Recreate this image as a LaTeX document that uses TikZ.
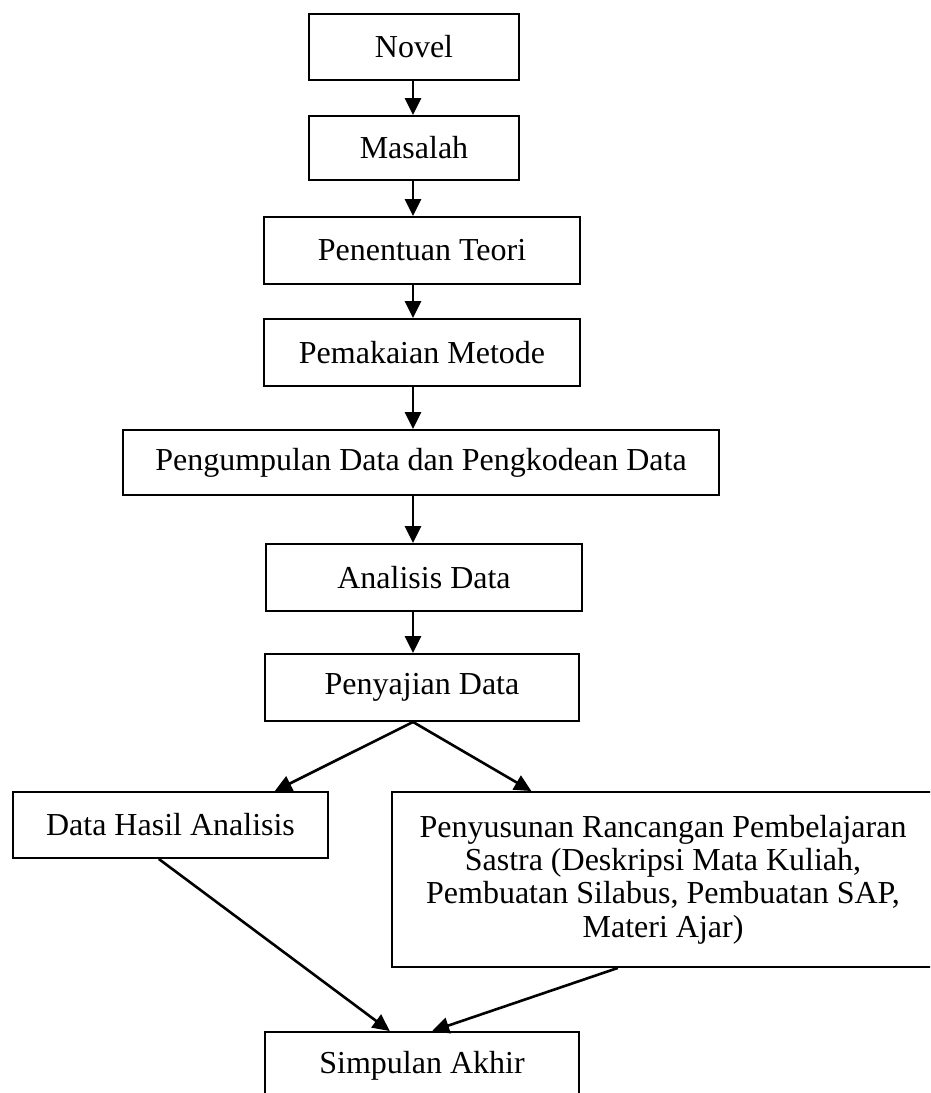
\documentclass[tikz,border=0pt]{standalone}
\usepackage{fontspec}
\setmainfont{Liberation Serif}
\usetikzlibrary{arrows.meta,calc}
\begin{document}
\begin{tikzpicture}[x=1pt,y=-1pt,
  box/.style={draw,line width=1.9pt,inner sep=0pt,font=\fontsize{32}{33.3}\selectfont,align=center},
  arr/.style={line width=2.6pt,-{Triangle[length=17pt,width=16pt]}}]
\useasboundingbox (0,0) rectangle (930,1093);
\clip (0,0) rectangle (930,1093);
\coordinate (sp) at (413,0);
\node[box,minimum width=210pt,minimum height=66pt] (novel) at (414,47) {Novel};
\node[box,minimum width=210pt,minimum height=64pt] (masalah) at (414,148) {Masalah};
\node[box,minimum width=316pt,minimum height=67pt] (teori) at (422,250.5) {Penentuan Teori};
\node[box,minimum width=316pt,minimum height=67pt] (metode) at (422,352.5) {Pemakaian Metode};
\node[box,minimum width=596pt,minimum height=65pt] (kumpul) at (421,462.5) {Pengumpulan Data dan Pengkodean Data};
\node[box,minimum width=316pt,minimum height=67pt] (analisis) at (424,577.5) {Analisis Data};
\node[box,minimum width=314pt,minimum height=67pt] (sajian) at (422,687.5) {Penyajian Data};
\node[box,minimum width=315pt,minimum height=66pt] (hasil) at (170.5,825) {Data Hasil Analisis};
\node[box,minimum width=542pt,minimum height=175pt] (rancang) at (663,879.5) {Penyusunan Rancangan Pembelajaran\\Sastra (Deskripsi Mata Kuliah,\\Pembuatan Silabus, Pembuatan SAP,\\Materi Ajar)};
\node[box,minimum width=314pt,minimum height=67pt] (simpulan) at (422,1065.5) {Simpulan Akhir};
\draw[arr] (novel.south -| sp) -- (masalah.north -| sp);
\draw[arr] (masalah.south -| sp) -- (teori.north -| sp);
\draw[arr] (teori.south -| sp) -- (metode.north -| sp);
\draw[arr] (metode.south -| sp) -- (kumpul.north -| sp);
\draw[arr] (kumpul.south -| sp) -- (analisis.north -| sp);
\draw[arr] (analisis.south -| sp) -- (sajian.north -| sp);
\draw[arr] (sajian.south -| sp) -- ($(hasil.north west)!0.829!(hasil.north east)$);
\draw[arr] (sajian.south -| sp) -- ($(rancang.north west)!0.258!(rancang.north east)$);
\draw[arr] ($(hasil.south west)!0.463!(hasil.south east)$) -- ($(simpulan.north west)!0.398!(simpulan.north east)$);
\draw[arr] ($(rancang.south west)!0.417!(rancang.south east)$) -- ($(simpulan.north west)!0.532!(simpulan.north east)$);
\end{tikzpicture}
\end{document}
